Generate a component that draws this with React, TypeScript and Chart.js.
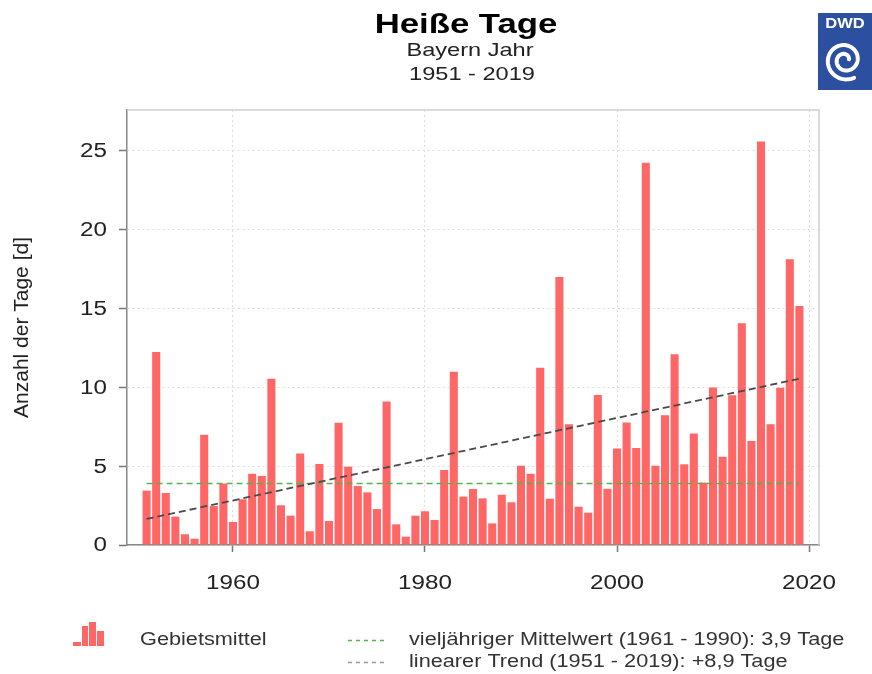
import React, { useEffect, useRef } from "react";
import { Chart, registerables } from "chart.js";

Chart.register(...registerables);

const YEARS = [
  1951, 1952, 1953, 1954, 1955, 1956, 1957, 1958, 1959, 1960,
  1961, 1962, 1963, 1964, 1965, 1966, 1967, 1968, 1969, 1970,
  1971, 1972, 1973, 1974, 1975, 1976, 1977, 1978, 1979, 1980,
  1981, 1982, 1983, 1984, 1985, 1986, 1987, 1988, 1989, 1990,
  1991, 1992, 1993, 1994, 1995, 1996, 1997, 1998, 1999, 2000,
  2001, 2002, 2003, 2004, 2005, 2006, 2007, 2008, 2009, 2010,
  2011, 2012, 2013, 2014, 2015, 2016, 2017, 2018, 2019,
];

const HOT_DAYS = [
  3.45, 12.25, 3.3, 1.8, 0.68, 0.4, 7.0, 2.47, 3.9, 1.46,
  2.9, 4.52, 4.38, 10.55, 2.52, 1.86, 5.8, 0.87, 5.14, 1.52,
  7.76, 4.97, 3.74, 3.34, 2.28, 9.1, 1.31, 0.53, 1.86, 2.14,
  1.59, 4.76, 11.0, 3.07, 3.55, 2.96, 1.37, 3.19, 2.71, 5.03,
  4.52, 11.25, 2.94, 17.0, 7.66, 2.43, 2.05, 9.52, 3.57, 6.13,
  7.78, 6.15, 24.26, 5.03, 8.23, 12.1, 5.12, 7.07, 3.96, 10.0,
  5.6, 9.5, 14.07, 6.6, 25.6, 7.66, 9.98, 18.13, 15.17,
];

const MEAN_YEARS = [1951, 2019];
const MEAN_VALUES = [3.9, 3.9];
const TREND_YEARS = [1951, 2019];
const TREND_VALUES = [1.65, 10.55];

const X_TICKS = [1960, 1980, 2000, 2020];
const Y_TICKS = [0, 5, 10, 15, 20, 25];

const TITLE = "Heiße Tage";
const SUBTITLE_1 = "Bayern Jahr";
const SUBTITLE_2 = "1951 - 2019";
const Y_TITLE = "Anzahl der Tage [d]";
const LEGEND_BARS = "Gebietsmittel";
const LEGEND_MEAN = "vieljähriger Mittelwert (1961 - 1990): 3,9 Tage";
const LEGEND_TREND = "linearer Trend (1951 - 2019): +8,9 Tage";

const FONT = "'Liberation Sans', Arial, sans-serif";
const SX = 1.24;
const BAR_COLOR = "#ff6666";
const MEAN_COLOR = "#55b34a";
const TREND_COLOR = "#4a4a4a";
const TEXT_COLOR = "#222222";

function drawText(
  ctx: CanvasRenderingContext2D,
  text: string,
  x: number,
  y: number,
  font: string,
  align: CanvasTextAlign,
  color: string,
  baseline: CanvasTextBaseline = "middle",
  sx: number = SX
) {
  ctx.save();
  ctx.translate(x, y);
  ctx.scale(sx, 1);
  ctx.font = font;
  ctx.textAlign = align;
  ctx.textBaseline = baseline;
  ctx.fillStyle = color;
  ctx.fillText(text, 0, 0);
  ctx.restore();
}

const decorPlugin = {
  id: "decor",
  beforeDatasetsDraw(chart: any) {
    const { ctx, chartArea } = chart;
    ctx.save();
    ctx.strokeStyle = "#cfcfcf";
    ctx.lineWidth = 1.5;
    ctx.beginPath();
    ctx.moveTo(chartArea.left, chartArea.top);
    ctx.lineTo(chartArea.right, chartArea.top);
    ctx.lineTo(chartArea.right, chartArea.bottom);
    ctx.stroke();
    ctx.restore();
  },
  afterDraw(chart: any) {
    const { ctx, chartArea } = chart;
    const xs = chart.scales.x;
    const ys = chart.scales.y;
    ctx.save();

    // Tick labels
    X_TICKS.forEach((v) => {
      drawText(ctx, String(v), xs.getPixelForValue(v), 584, `19.5px ${FONT}`, "center", TEXT_COLOR);
    });
    Y_TICKS.forEach((v) => {
      drawText(ctx, String(v), 107, ys.getPixelForValue(v) + 1, `19.5px ${FONT}`, "right", TEXT_COLOR);
    });

    // Y axis title (rotated)
    ctx.save();
    ctx.translate(22, (chartArea.top + chartArea.bottom) / 2);
    ctx.rotate(-Math.PI / 2);
    ctx.font = `21px ${FONT}`;
    ctx.textAlign = "center";
    ctx.textBaseline = "middle";
    ctx.fillStyle = TEXT_COLOR;
    ctx.fillText(Y_TITLE, 0, 0);
    ctx.restore();

    // Titles
    drawText(ctx, TITLE, 466, 33, `bold 28px ${FONT}`, "center", "#000", "alphabetic");
    drawText(ctx, SUBTITLE_1, 470, 56, `19px ${FONT}`, "center", TEXT_COLOR, "alphabetic");
    drawText(ctx, SUBTITLE_2, 472, 80, `19px ${FONT}`, "center", TEXT_COLOR, "alphabetic");

    // DWD logo
    ctx.fillStyle = "#2c4f9f";
    ctx.fillRect(818, 13, 54, 77);
    drawText(ctx, "DWD", 845, 24, `bold 15px ${FONT}`, "center", "#fff", "middle", 1.1);
    ctx.strokeStyle = "#fff";
    ctx.lineWidth = 4;
    ctx.lineCap = "round";
    ctx.beginPath();
    const cx = 845, cy = 60;
    for (let i = 0; i <= 160; i++) {
      const t = i / 160;
      const ang = Math.PI * 0.35 + t * Math.PI * 3.6;
      const r = 20 - 16 * t;
      const px = cx + r * Math.cos(ang);
      const py = cy + r * Math.sin(ang);
      if (i === 0) ctx.moveTo(px, py);
      else ctx.lineTo(px, py);
    }
    ctx.stroke();

    // Legend
    ctx.fillStyle = BAR_COLOR;
    ctx.fillRect(73, 642, 8, 4);
    ctx.fillRect(82, 626, 6, 20);
    ctx.fillRect(89, 622, 7, 24);
    ctx.fillRect(97, 631, 7, 15);

    drawText(ctx, LEGEND_BARS, 140, 640, `17.5px ${FONT}`, "left", "#333");
    drawText(ctx, LEGEND_MEAN, 409, 640, `17.5px ${FONT}`, "left", "#333");
    drawText(ctx, LEGEND_TREND, 409, 662, `17.5px ${FONT}`, "left", "#333");

    ctx.lineWidth = 1.3;
    ctx.lineCap = "butt";
    ctx.setLineDash([4, 4]);
    ctx.strokeStyle = MEAN_COLOR;
    ctx.beginPath();
    ctx.moveTo(348, 640.5);
    ctx.lineTo(386, 640.5);
    ctx.stroke();
    ctx.strokeStyle = "#999";
    ctx.beginPath();
    ctx.moveTo(348, 662.5);
    ctx.lineTo(386, 662.5);
    ctx.stroke();
    ctx.restore();
  },
};

export default function App() {
  const canvasRef = useRef<HTMLCanvasElement | null>(null);

  useEffect(() => {
    if (!canvasRef.current) return;
    const barData = YEARS.map((y, i) => ({ x: y, y: HOT_DAYS[i] }));
    const meanData = MEAN_YEARS.map((y, i) => ({ x: y, y: MEAN_VALUES[i] }));
    const trendData = TREND_YEARS.map((y, i) => ({ x: y, y: TREND_VALUES[i] }));

    const chart = new Chart(canvasRef.current, {
      type: "bar",
      data: {
        datasets: [
          {
            type: "bar",
            label: LEGEND_BARS,
            data: barData as any,
            backgroundColor: BAR_COLOR,
            borderWidth: 0,
            barPercentage: 0.84,
            categoryPercentage: 1,
            order: 3,
          },
          {
            type: "line",
            label: LEGEND_MEAN,
            data: meanData as any,
            borderColor: MEAN_COLOR,
            borderWidth: 1.5,
            borderDash: [6, 4],
            pointRadius: 0,
            fill: false,
            order: 2,
          },
          {
            type: "line",
            label: LEGEND_TREND,
            data: trendData as any,
            borderColor: TREND_COLOR,
            borderWidth: 1.8,
            borderDash: [7, 4],
            pointRadius: 0,
            fill: false,
            order: 1,
          },
        ] as any,
      },
      options: {
        responsive: false,
        animation: false,
        devicePixelRatio: 1,
        layout: { padding: { top: 110, right: 53, bottom: 84, left: 0 } },
        plugins: {
          legend: { display: false },
          title: { display: false },
          tooltip: { enabled: false },
        },
        scales: {
          x: {
            type: "linear",
            min: 1948.96,
            max: 2021.04,
            offset: false,
            afterFit: (s: any) => {
              s.height = 45;
            },
            afterBuildTicks: (s: any) => {
              s.ticks = X_TICKS.map((v) => ({ value: v }));
            },
            ticks: { display: false },
            grid: {
              offset: false,
              color: "#dddddd",
              lineWidth: 1,
              tickColor: "#777",
              tickLength: 7,
              tickWidth: 1.5,
              tickBorderDash: [],
            },
            border: { color: "#888", width: 1.5, dash: [2, 3] },
          },
          y: {
            type: "linear",
            min: 0,
            max: 27.6,
            afterFit: (s: any) => {
              s.width = 127;
            },
            afterBuildTicks: (s: any) => {
              s.ticks = Y_TICKS.map((v) => ({ value: v }));
            },
            ticks: { display: false },
            grid: {
              color: "#dddddd",
              lineWidth: 1,
              tickColor: "#777",
              tickLength: 8,
              tickWidth: 1.5,
              tickBorderDash: [],
            },
            border: { color: "#888", width: 1.5, dash: [2, 3] },
          },
        },
      } as any,
      plugins: [decorPlugin],
    });
    return () => chart.destroy();
  }, []);

  return (
    <div style={{ position: "absolute", left: 0, top: 0, width: 872, height: 674, background: "#fff" }}>
      <canvas ref={canvasRef} width={872} height={674} style={{ display: "block" }} />
    </div>
  );
}
